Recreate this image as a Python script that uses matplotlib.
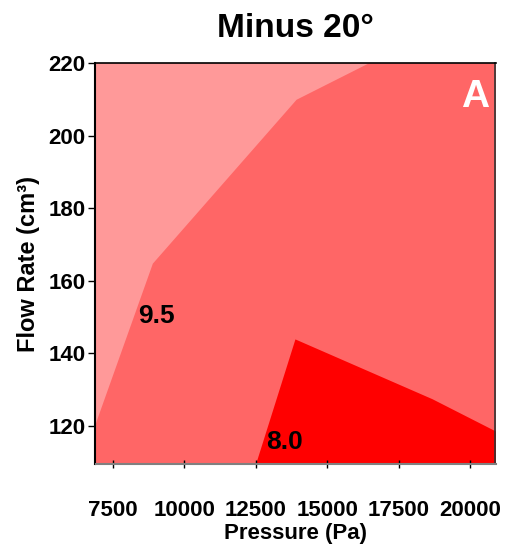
import matplotlib
matplotlib.use("Agg")
import matplotlib.pyplot as plt

plt.rcParams['font.family'] = ['Liberation Sans', 'DejaVu Sans']
plt.rcParams['font.weight'] = 'bold'

# Contour boundary (Pressure in Pa, Flow Rate in cm3)
pressure_95 = [6890, 8880, 13910, 16430, 20890]
flow_95 = [120.8, 164.8, 210.0, 220.0, 220.0]
pressure_80 = [12490, 13870, 18670, 20890]
flow_80 = [109.4, 143.9, 127.4, 118.5]

contour_labels = ["9.5", "8.0"]
label_pressure = [9040, 13490]
label_flow = [150.2, 115.6]

x_ticks = [7500, 10000, 12500, 15000, 17500, 20000]
y_ticks = [120, 140, 160, 180, 200, 220]
x_lim = (6890, 20890)
y_lim = (109.4, 220)

c_high = '#FF9999'
c_mid = '#FF6666'
c_low = '#FF0000'

fig = plt.figure(figsize=(5.10, 5.47), dpi=100)
ax = fig.add_axes([95.5/510, 1-464/547, 400/510, 401/547])
ax.set_facecolor(c_high)
ax.fill_between(pressure_95, y_lim[0] - 5, flow_95, color=c_mid, lw=0)
ax.fill_between(pressure_80, y_lim[0] - 5, flow_80, color=c_low, lw=0)

for t, px, fy in zip(contour_labels, label_pressure, label_flow):
    ax.text(px, fy, t, ha='center', va='center', fontsize=19, fontweight='bold', color='black')

ax.text(0.985, 0.915, "A", transform=ax.transAxes, ha='right', va='center',
        fontsize=28, fontweight='bold', color='white')

ax.set_xlim(*x_lim)
ax.set_ylim(*y_lim)
ax.set_xticks(x_ticks)
ax.set_yticks(y_ticks)
ax.set_xticklabels([str(v) for v in x_ticks])
ax.set_yticklabels([str(v) for v in y_ticks])
ax.tick_params(axis='x', direction='inout', length=6, width=1, pad=23, labelsize=16)
ax.tick_params(axis='y', direction='out', length=5, width=1, pad=2, labelsize=16)

ax.spines['bottom'].set_color('#808080')
ax.spines['bottom'].set_linewidth(1.5)
ax.spines['left'].set_color('black')
ax.spines['left'].set_linewidth(1.5)
ax.spines['top'].set_color('black')
ax.spines['top'].set_linewidth(1.2)
ax.spines['right'].set_color('#333333')
ax.spines['right'].set_linewidth(1.2)

ax.set_xlabel("Pressure (Pa)", fontsize=16, fontweight='bold', labelpad=1)
ax.set_ylabel("Flow Rate (cm³)", fontsize=17, fontweight='bold', labelpad=6)
ax.set_title("Minus 20°", fontsize=24, fontweight='bold', pad=19)

fig.savefig("out.png", dpi=100)
